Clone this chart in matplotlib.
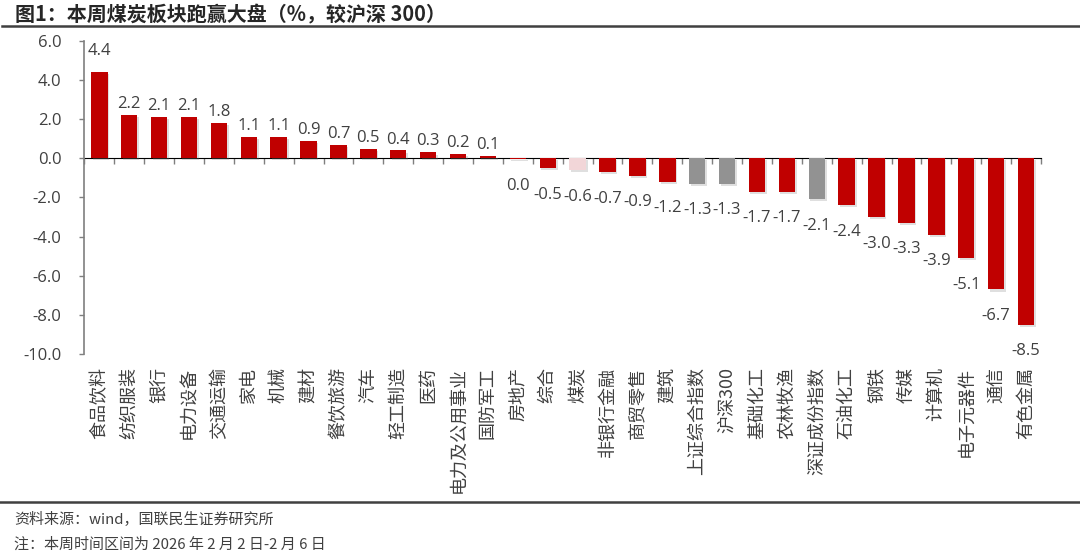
import matplotlib
matplotlib.use("Agg")
import matplotlib.pyplot as plt
import matplotlib.patheffects as pe
import numpy as np

plt.rcParams['font.family'] = ['Noto Sans CJK SC', 'DejaVu Sans']
NUMFONT = ['Open Sans', 'Noto Sans CJK SC']

categories = ["食品饮料", "纺织服装", "银行", "电力设备", "交通运输", "家电", "机械", "建材",
              "餐饮旅游", "汽车", "轻工制造", "医药", "电力及公用事业", "国防军工", "房地产",
              "综合", "煤炭", "非银行金融", "商贸零售", "建筑", "上证综合指数", "沪深300",
              "基础化工", "农林牧渔", "深证成份指数", "石油化工", "钢铁", "传媒", "计算机",
              "电子元器件", "通信", "有色金属"]
values = [4.4, 2.2, 2.1, 2.1, 1.8, 1.1, 1.1, 0.9, 0.7, 0.5, 0.4, 0.3, 0.2, 0.1, -0.04,
          -0.5, -0.6, -0.7, -0.9, -1.2, -1.3, -1.3, -1.7, -1.7, -2.1, -2.4, -3.0, -3.3,
          -3.9, -5.1, -6.7, -8.5]
index_names = ["上证综合指数", "沪深300", "深证成份指数"]
highlight = "煤炭"
yticks = [6.0, 4.0, 2.0, 0.0, -2.0, -4.0, -6.0, -8.0, -10.0]
title = "图1：本周煤炭板块跑赢大盘（%，较沪深 300）"
source = "资料来源：wind，国联民生证券研究所"
note = "注：本周时间区间为 2026 年 2 月 2 日-2 月 6 日"

RED = "#C00000"
PINK = "#F2D6D8"
GRAY = "#929292"
TXT = "#404040"

colors = []
for c in categories:
    if c in index_names:
        colors.append(GRAY)
    elif c == highlight:
        colors.append(PINK)
    else:
        colors.append(RED)

fig = plt.figure(figsize=(10.8, 5.57), dpi=100)
ax = fig.add_axes([0.0781, 0.3643, 0.8858, 0.5624])

x = np.arange(len(categories))
bars = ax.bar(x, values, width=0.55, color=colors, zorder=3)
for b in bars:
    b.set_path_effects([pe.SimplePatchShadow(offset=(1.2, -1.5), shadow_rgbFace='#808080', alpha=0.25), pe.Normal()])

ax.set_xlim(-0.5, len(categories) - 0.5)
ax.set_ylim(-10, 6)
ax.set_yticks(yticks)
ax.set_yticklabels([f"{v:.1f}" for v in yticks], family=NUMFONT)
ax.tick_params(axis='y', direction='out', length=3.6, width=1, color='#7F7F7F',
               labelsize=12, labelcolor=TXT, pad=13)

ax.set_xticks(x)
ax.set_xticklabels(categories, rotation=90, fontsize=13, color=TXT, va='top', ha='center')
ax.tick_params(axis='x', length=0, pad=9)

for s in ['top', 'right', 'bottom']:
    ax.spines[s].set_visible(False)
ax.spines['left'].set_color('#7F7F7F')
ax.spines['left'].set_linewidth(1.2)

# zero axis with category boundary ticks
sec = ax.secondary_xaxis(10 / 16)
sec.set_xticks(np.arange(-0.5, len(categories), 1.0))
sec.set_xticklabels([])
sec.tick_params(direction='in', length=4, width=1, color='#7F7F7F')
sec.spines['bottom'].set_color('#7F7F7F')
sec.spines['bottom'].set_linewidth(1.2)

# value labels
for i, v in enumerate(values):
    lab = f"{abs(v):.1f}" if abs(v) < 0.05 else f"{v:.1f}"
    if v >= 0:
        off = 12 if i == 0 else 5
    else:
        off = -22
    ax.annotate(lab, (i, v), xytext=(0, off), textcoords='offset points',
                ha='center', va='baseline', fontsize=12, color=TXT, family=NUMFONT)

# title and footer
fig.text(15 / 1080, 1 - 15 / 557, title, fontsize=14.4, fontweight='bold', color='#262626',
         ha='left', va='center')
fig.add_artist(plt.Line2D([0.002, 1.0], [1 - 26 / 557, 1 - 26 / 557], color='#404040', lw=1.8))
fig.add_artist(plt.Line2D([0.0, 1.0], [1 - 502 / 557, 1 - 502 / 557], color='#404040', lw=1.8))
fig.text(14 / 1080, 1 - 520 / 557, source, fontsize=10.8, color=TXT, ha='left', va='center')
fig.text(14 / 1080, 1 - 545 / 557, note, fontsize=10.8, color=TXT, ha='left', va='center')

fig.savefig("out.png", dpi=100)
